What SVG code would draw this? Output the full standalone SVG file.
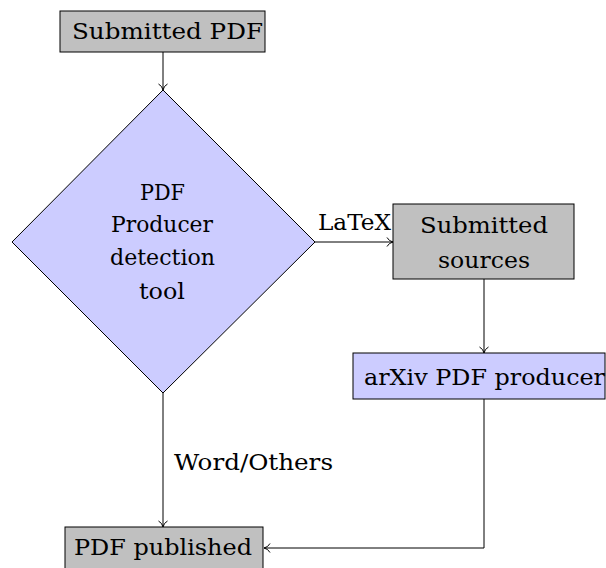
<svg xmlns="http://www.w3.org/2000/svg" width="606" height="568" viewBox="0 0 606 568">
<style>
.t{font-family:"DejaVu Serif","Liberation Serif",serif;font-size:23px;fill:#000;text-anchor:middle}
.l{font-family:"DejaVu Serif","Liberation Serif",serif;font-size:23px;fill:#000}
.g{fill:#c0c0c0;stroke:#000;stroke-width:1}
.b{fill:#ccccff;stroke:#000;stroke-width:1}
.c{fill:none;stroke:#000;stroke-width:1}
</style>
<defs>
<marker id="a" markerWidth="12" markerHeight="12" refX="9" refY="6" orient="auto" markerUnits="userSpaceOnUse">
<path d="M3,1.5 Q5,5.2 9,6 Q5,6.8 3,10.5" fill="none" stroke="#000" stroke-width="1"/>
</marker>
</defs>
<g id="connectors">
<path class="c" d="M163,52 V90" marker-end="url(#a)"/>
<path class="c" d="M315,242 H393" marker-end="url(#a)"/>
<path class="c" d="M484,279 V353" marker-end="url(#a)"/>
<path class="c" d="M484,399 V548 H264" marker-end="url(#a)"/>
<path class="c" d="M163,393 V527" marker-end="url(#a)"/>
<text class="l" x="318" y="230" textLength="73" lengthAdjust="spacingAndGlyphs">LaTeX</text>
<text class="l" x="174" y="470" textLength="159" lengthAdjust="spacingAndGlyphs">Word/Others</text>
</g>
<g id="submitted-pdf">
<rect class="g" x="60" y="11" width="205" height="41"/>
<text class="t" x="167.5" y="39" textLength="191" lengthAdjust="spacingAndGlyphs">Submitted PDF</text>
</g>
<g id="detection">
<polygon class="b" points="163,90 315,242 163,393 12,242"/>
<text class="t" x="162.5" y="200" textLength="45" lengthAdjust="spacingAndGlyphs">PDF</text>
<text class="t" x="162" y="232" textLength="102" lengthAdjust="spacingAndGlyphs">Producer</text>
<text class="t" x="162.5" y="265" textLength="105" lengthAdjust="spacingAndGlyphs">detection</text>
<text class="t" x="162" y="299" textLength="46" lengthAdjust="spacingAndGlyphs">tool</text>
</g>
<g id="submitted-sources">
<rect class="g" x="393" y="204" width="181" height="75"/>
<text class="t" x="484" y="233" textLength="128" lengthAdjust="spacingAndGlyphs">Submitted</text>
<text class="t" x="484" y="268" textLength="92" lengthAdjust="spacingAndGlyphs">sources</text>
</g>
<g id="arxiv">
<rect class="b" x="353" y="353" width="252" height="46"/>
<text class="t" x="484.5" y="385" textLength="241" lengthAdjust="spacingAndGlyphs">arXiv PDF producer</text>
</g>
<g id="published">
<rect class="g" x="65" y="527" width="198" height="45"/>
<text class="t" x="163" y="555" textLength="178" lengthAdjust="spacingAndGlyphs">PDF published</text>
</g>
</svg>
